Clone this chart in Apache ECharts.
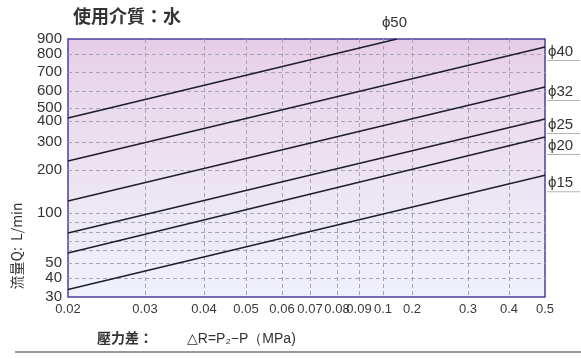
<!DOCTYPE html>
<html>
<head>
<meta charset="utf-8">
<script src="https://cdn.jsdelivr.net/npm/echarts@6/dist/echarts.min.js"></script>
<style>
html,body{margin:0;padding:0;background:#fff;}
#chart{width:581px;height:359px;}
</style>
</head>
<body>
<div id="chart"></div>
<script>
// ---- data ----
const diameters = ['ϕ50', 'ϕ40', 'ϕ32', 'ϕ25', 'ϕ20', 'ϕ15'];
const pressureStart = [0.02, 0.02, 0.02, 0.02, 0.02, 0.02];     // MPa
const pressureEnd   = [0.148, 0.5, 0.5, 0.5, 0.5, 0.5];          // MPa
const flowStart = [423, 232, 128, 79, 57.7, 34];                 // L/min
const flowEnd   = [900, 847, 621, 415, 324, 188];                // L/min

// tick values / labels
const xTickValues = [0.02, 0.03, 0.04, 0.05, 0.06, 0.07, 0.08, 0.09, 0.1, 0.2, 0.3, 0.4, 0.5];
const xTickLabels = ['0.02', '0.03', '0.04', '0.05', '0.06', '0.07', '0.08', '0.09', '0.1', '0.2', '0.3', '0.4', '0.5'];
const yGridValues = [30, 40, 50, 60, 70, 80, 90, 100, 200, 300, 400, 500, 600, 700, 800, 900];
const yTickValues = [30, 40, 50, 100, 200, 300, 400, 500, 600, 700, 800, 900];
const yTickLabels = ['30', '40', '50', '100', '200', '300', '400', '500', '600', '700', '800', '900'];

// ---- axis scales (the printed chart uses irregular, hand-drawn log-like scales) ----
const xScaleFrac = [0, 0.1614, 0.2851, 0.3732, 0.4486, 0.5073, 0.5639, 0.6101, 0.6604, 0.7212, 0.8386, 0.9245, 1];
const yScaleFrac = [0, 0.0736, 0.1318, 0.1822, 0.2171, 0.2519, 0.2907, 0.3256, 0.4922, 0.6008, 0.6822, 0.7326, 0.7984, 0.8721, 0.9419, 1];

function makeScale(vals, fracs) {
  return function (v) {
    if (v <= vals[0]) return fracs[0];
    for (let i = 1; i < vals.length; i++) {
      if (v <= vals[i]) {
        const t = (v - vals[i - 1]) / (vals[i] - vals[i - 1]);
        return fracs[i - 1] + t * (fracs[i] - fracs[i - 1]);
      }
    }
    return fracs[fracs.length - 1];
  };
}
const xs = makeScale(xTickValues, xScaleFrac);
const ys = makeScale(yGridValues, yScaleFrac);

function labelFor(pos, vals, labels, scale) {
  for (let i = 0; i < vals.length; i++) {
    if (Math.abs(scale(vals[i]) - pos) < 1e-6) return labels[i];
  }
  return '';
}

const labelNudge = [null, 5, 5, 6, 9, 8];
const textFont = '"Liberation Sans", Arial, "DejaVu Sans", sans-serif';
const cjkFont = '"Noto Sans CJK TC", "Noto Sans CJK SC", sans-serif';

const series = diameters.map(function (name, i) {
  const top = i === 0;
  return {
    name: name,
    type: 'line',
    symbol: 'none',
    animation: false,
    silent: true,
    lineStyle: { color: '#1e1e2a', width: 1.5 },
    data: [[xs(pressureStart[i]), ys(flowStart[i])], [xs(pressureEnd[i]), ys(flowEnd[i])]],
    endLabel: top ? {
      show: true,
      distance: 0,
      offset: [-15, -16],
      formatter: name,
      fontFamily: textFont,
      fontSize: 15,
      color: '#333'
    } : {
      show: true,
      distance: 2,
      offset: [0, labelNudge[i]],
      formatter: '{t|' + name + '}\n{u|}',
      rich: {
        t: { fontFamily: textFont, fontSize: 15, color: '#333', lineHeight: 17, padding: [0, 0, 0, 1] },
        u: { width: 33, height: 1, backgroundColor: '#b4b4b4' }
      }
    }
  };
});

const chart = echarts.init(document.getElementById('chart'), null, { renderer: 'canvas' });
chart.setOption({
  animation: false,
  backgroundColor: '#ffffff',
  grid: {
    left: 68, right: 36, top: 39, bottom: 62,
    show: true,
    borderColor: '#4c3f9e',
    borderWidth: 1.5,
    backgroundColor: {
      type: 'linear', x: 0, y: 0, x2: 0, y2: 1,
      colorStops: [
        { offset: 0, color: '#e5cbe6' },
        { offset: 0.12, color: '#e9d5eb' },
        { offset: 0.45, color: '#ece1f0' },
        { offset: 0.75, color: '#edeaf6' },
        { offset: 1, color: '#f0f1fb' }
      ]
    }
  },
  xAxis: {
    type: 'value', min: 0, max: 1,
    axisLine: { show: false },
    axisTick: { show: false, customValues: xTickValues.slice(1, -1).map(xs) },
    splitLine: { show: true, lineStyle: { color: '#a6a4b4', type: [4, 3], width: 1 } },
    axisLabel: {
      customValues: xTickValues.map(xs),
      formatter: function (v) { return labelFor(v, xTickValues, xTickLabels, xs); },
      margin: 6,
      fontFamily: textFont, fontSize: 13, color: '#3a3a3a',
      showMinLabel: true, showMaxLabel: true, hideOverlap: false
    }
  },
  yAxis: {
    type: 'value', min: 0, max: 1,
    axisLine: { show: false },
    axisTick: { show: false, customValues: yGridValues.slice(1, -1).map(ys) },
    splitLine: { show: true, lineStyle: { color: '#a6a4b4', type: [4, 3], width: 1 } },
    axisLabel: {
      customValues: yTickValues.map(ys),
      formatter: function (v) { return labelFor(v, yTickValues, yTickLabels, ys); },
      margin: 6,
      fontFamily: textFont, fontSize: 15, color: '#333',
      showMinLabel: true, showMaxLabel: true, hideOverlap: false
    }
  },
  graphic: [
    { type: 'text', left: 73, top: 7, style: { text: '使用介質：水', font: 'bold 18px ' + cjkFont, fill: '#333' } },
    { type: 'text', x: 17, y: 246, rotation: Math.PI / 2,
      style: { text: '流量Q:  L/min', font: '14px ' + cjkFont, fill: '#333', align: 'center', verticalAlign: 'middle' } },
    { type: 'text', left: 97, top: 331, style: { text: '壓力差：', font: 'bold 14px ' + cjkFont, fill: '#333' } },
    { type: 'text', left: 187, top: 332, style: { text: '△R=P₂−P（MPa)', font: '14px ' + textFont, fill: '#333' } },
    { type: 'line', shape: { x1: 15, y1: 352, x2: 581, y2: 352 }, style: { stroke: '#9a9a9a', lineWidth: 2 } }
  ],
  series: series
});
</script>
</body>
</html>
